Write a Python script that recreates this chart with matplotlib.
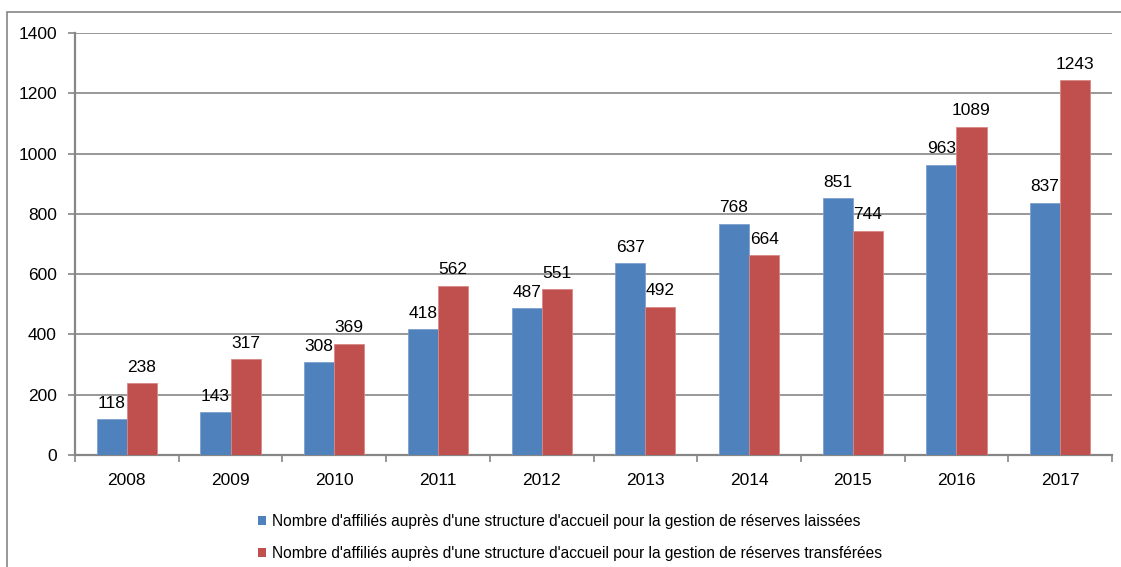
import numpy as np
import matplotlib.pyplot as plt
from matplotlib.patches import Patch, Rectangle

# Data
years = ['2008', '2009', '2010', '2011', '2012', '2013', '2014', '2015', '2016', '2017']
laissees = [118, 143, 308, 418, 487, 637, 768, 851, 963, 837]
transferees = [238, 317, 369, 562, 551, 492, 664, 744, 1089, 1243]
legend_labels = [
    "Nombre d'affiliés auprès d'une structure d'accueil pour la gestion de réserves laissées",
    "Nombre d'affiliés auprès d'une structure d'accueil pour la gestion de réserves transférées",
]

blue = '#4F81BD'
red = '#C0504D'
grey = '#868686'

plt.rcParams['font.family'] = ['Liberation Sans', 'DejaVu Sans']

W, H = 1121, 567
fig = plt.figure(figsize=(W / 100, H / 100), dpi=100)

# outer chart border (partly cut off on right and bottom)
fig.patches.append(Rectangle((7 / W, -0.1), 1.2, 1 - 12 / H + 0.1,
                             transform=fig.transFigure, fill=False,
                             edgecolor=grey, linewidth=1.2))

ax = fig.add_axes([75 / W, 1 - 455 / H, (1112 - 75) / W, (455 - 33) / H])

x = np.arange(len(years))
w = 0.29
b1 = ax.bar(x - w / 2, laissees, w, color=blue, edgecolor='#7FA1CF', linewidth=0.6, zorder=3)
b2 = ax.bar(x + w / 2, transferees, w, color=red, edgecolor='#D98886', linewidth=0.6, zorder=3)

for bars, vals in [(b1, laissees), (b2, transferees)]:
    for r, v in zip(bars, vals):
        ax.annotate(str(v), (r.get_x() + r.get_width() / 2, v), xytext=(0, 6),
                    textcoords='offset points', ha='center', va='bottom',
                    fontsize=12.5, color='black', zorder=4)

ax.set_xlim(-0.5, len(years) - 0.5)
ax.set_ylim(0, 1400)
ax.set_yticks(range(0, 1401, 200))
ax.yaxis.grid(True, color=grey, linewidth=1.2, zorder=0)
ax.set_axisbelow(True)

ax.set_xticks(x)
ax.set_xticklabels(years, fontsize=12.5)
ax.set_xticks(np.arange(-0.5, len(years)), minor=True)
ax.tick_params(axis='x', which='major', length=0, pad=13)
ax.tick_params(axis='x', which='minor', length=5, width=1.2, color=grey)
ax.tick_params(axis='y', length=5, width=1.2, color=grey, labelsize=12.5, pad=8)

for s in ['top', 'right']:
    ax.spines[s].set_visible(False)
for s in ['left', 'bottom']:
    ax.spines[s].set_color(grey)
    ax.spines[s].set_linewidth(1.6)

handles = [Patch(facecolor=blue), Patch(facecolor=red)]
fig.legend(handles, legend_labels, loc='upper left', bbox_to_anchor=(250 / W, 1 - 506 / H),
           frameon=False, fontsize=11.2, handlelength=0.55, handleheight=0.55,
           handletextpad=0.35, labelspacing=1.1, borderpad=0)

fig.savefig('out.png', dpi=100)
